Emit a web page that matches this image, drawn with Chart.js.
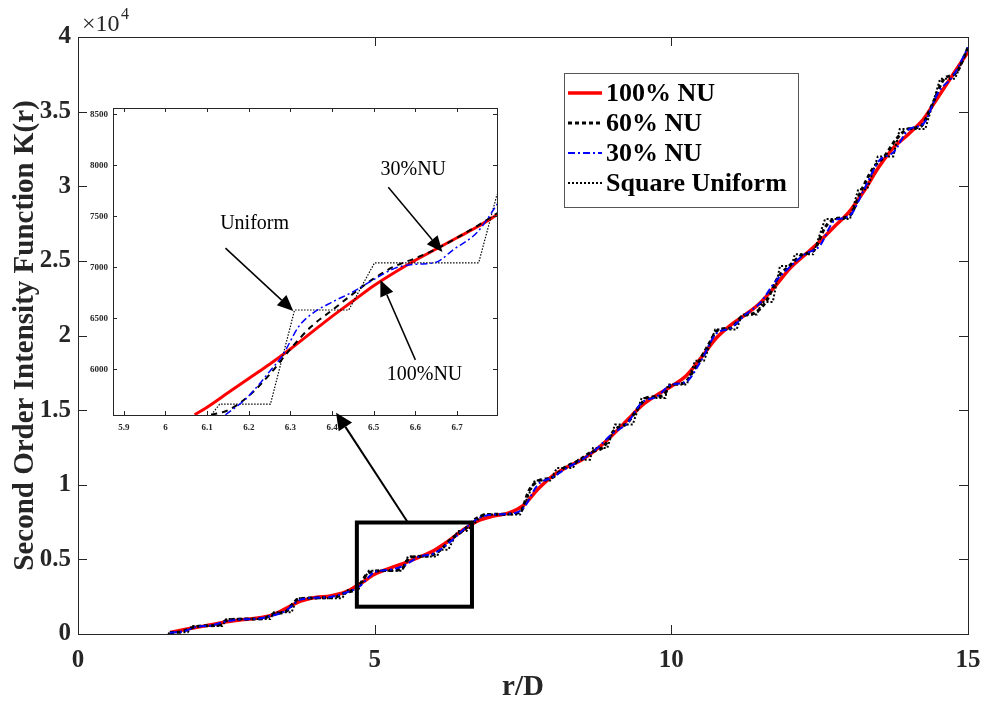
<!DOCTYPE html>
<html>
<head>
<meta charset="utf-8">
<script src="https://cdn.jsdelivr.net/npm/chart.js@4.4.1/dist/chart.umd.min.js"></script>
<style>
  html, body { margin: 0; padding: 0; background: #fff; }
  #wrap { position: relative; width: 987px; height: 702px; }
  #main-chart { position: absolute; left: 0; top: 0; z-index: 2; }
  #inset-chart { position: absolute; left: 70px; top: 97px; z-index: 1; }
</style>
</head>
<body>
<div id="wrap">
  <canvas id="inset-chart" width="440" height="340"></canvas>
  <canvas id="main-chart" width="987" height="702"></canvas>
</div>
<script>
// ---- main plot data (r/D, K(r)) ----
const nu100R = [1.55, 1.8, 2.0, 2.25, 2.5, 2.75, 3.0, 3.25, 3.5, 3.75, 4.0, 4.25, 4.5, 4.75, 5.0, 5.25, 5.5, 5.75, 6.0, 6.25,
  6.5, 6.75, 7.0, 7.25, 7.5, 7.75, 8.0, 8.25, 8.5, 8.75, 9.0, 9.25, 9.5, 9.75, 10.0, 10.25, 10.5, 10.75, 11.0, 11.25,
  11.5, 11.75, 12.0, 12.25, 12.5, 12.75, 13.0, 13.25, 13.5, 13.75, 14.0, 14.25, 14.5, 14.75, 15.0];
const nu100K = [100, 300, 450, 620, 820, 950, 1050, 1250, 1700, 2200, 2450, 2550, 2800, 3350, 4000, 4400, 4750, 5150, 5600, 6250,
  7000, 7600, 7900, 8100, 8600, 9700, 10600, 11200, 11700, 12400, 13300, 14300, 15300, 16000, 16600, 17300, 18500, 19800, 20700, 21400,
  22200, 23300, 24500, 25400, 26300, 27300, 28300, 29700, 31300, 32600, 33500, 34500, 36000, 37500, 39000];

const nu60R = [1.55, 1.75, 1.9, 2.1, 2.35, 2.5, 2.8, 3.1, 3.3, 3.5, 3.7, 4.0, 4.3, 4.5, 4.7, 4.9, 5.2, 5.45, 5.6, 5.9,
  6.1, 6.3, 6.5, 6.7, 6.9, 7.2, 7.45, 7.6, 7.75, 8.0, 8.2, 8.45, 8.65, 8.85, 9.05, 9.25, 9.45, 9.6, 9.85, 10.0,
  10.2, 10.4, 10.6, 10.8, 11.0, 11.2, 11.4, 11.6, 11.8, 12.0, 12.2, 12.4, 12.6, 12.8, 13.0, 13.2, 13.4, 13.6, 13.8, 14.0,
  14.2, 14.4, 14.6, 14.8, 15.0];
const nu60K = [100, 150, 400, 550, 570, 900, 1000, 1020, 1350, 1500, 2300, 2420, 2440, 2750, 3050, 4100, 4250, 4350, 5150, 5220,
  5600, 6400, 6950, 7700, 8000, 8030, 8150, 9600, 10250, 10500, 11150, 11650, 12200, 12500, 13700, 14100, 15200, 15850, 15950, 16700,
  16800, 17800, 19200, 20400, 20500, 21300, 21500, 22300, 23900, 24700, 25400, 25700, 27300, 27850, 28000, 29700, 31200, 32050, 33200, 33850,
  34000, 35500, 37200, 37600, 39300];

const nu30R = nu100R;
const nu30K = [80, 200, 480, 580, 850, 980, 1020, 1200, 1550, 2300, 2430, 2480, 2750, 3200, 4150, 4300, 4600, 5180, 5400, 6100,
  7000, 7750, 8000, 8050, 8400, 10000, 10500, 11150, 11700, 12450, 13400, 14100, 15500, 15900, 16700, 16900, 18300, 20100, 20500, 21400,
  22200, 23600, 24600, 25450, 26000, 27700, 28000, 29800, 31700, 32300, 33800, 34200, 36300, 37400, 39300];

const sqR = [1.52, 1.55, 1.85, 1.94, 2.43, 2.50, 3.24, 3.30, 3.60, 3.69, 4.45, 4.55, 4.72, 4.90, 5.46, 5.56, 6.05, 6.10, 6.24, 6.40,
  6.55, 6.83, 7.45, 7.70, 7.96, 8.07, 8.34, 8.43, 8.63, 8.68, 8.92, 9.05, 9.35, 9.50, 9.90, 9.94, 10.26, 10.40, 10.55, 10.74,
  11.10, 11.19, 11.44, 11.53, 11.71, 11.83, 12.03, 12.08, 12.39, 12.59, 13.01, 13.15, 13.30, 13.48, 13.74, 13.85, 14.28, 14.53, 14.78, 15.00];
const sqK = [0, 120, 120, 540, 540, 1000, 1000, 1450, 1450, 2400, 2400, 2950, 2950, 4230, 4230, 5190, 5190, 5640, 5640, 6900,
  6900, 8000, 8000, 10290, 10290, 11120, 11120, 11680, 11680, 12460, 12460, 14030, 14030, 15820, 15820, 16710, 16710, 18300, 18300, 20400,
  20400, 21400, 21400, 22250, 22250, 24650, 24650, 25440, 25440, 27800, 27800, 29800, 29800, 32000, 32000, 33830, 33830, 37200, 37200, 39300];

const mainXTicks = [0, 5, 10, 15];
const mainYTicks = [0, 5000, 10000, 15000, 20000, 25000, 30000, 35000, 40000];
const mainYLabels = ['0', '0.5', '1', '1.5', '2', '2.5', '3', '3.5', '4'];
const seriesLabels = ['100% NU', '60% NU', '30% NU', 'Square Uniform'];

// ---- inset data (zoomed view) ----
const in100X = [6.07, 6.10, 6.15, 6.20, 6.25, 6.30, 6.35, 6.40, 6.45, 6.50, 6.55, 6.60, 6.65, 6.70, 6.75, 6.80];
const in100Y = [5555, 5630, 5770, 5910, 6050, 6200, 6360, 6520, 6670, 6820, 6950, 7070, 7180, 7290, 7400, 7525];
const in60X = [6.11, 6.15, 6.20, 6.25, 6.30, 6.35, 6.40, 6.45, 6.50, 6.55, 6.60, 6.65, 6.70, 6.75, 6.80];
const in60Y = [5555, 5600, 5740, 5950, 6200, 6420, 6580, 6740, 6890, 7010, 7090, 7180, 7290, 7410, 7540];
const in30X = [6.144, 6.19, 6.22, 6.25, 6.28, 6.32, 6.35, 6.40, 6.45, 6.50, 6.55, 6.60, 6.65, 6.69, 6.75, 6.80];
const in30Y = [5555, 5700, 5830, 5980, 6130, 6420, 6540, 6660, 6760, 6880, 6990, 7030, 7050, 7170, 7350, 7640];
const inSqX = [6.11, 6.13, 6.252, 6.31, 6.44, 6.502, 6.752, 6.796];
const inSqY = [5555, 5659, 5659, 6582, 6582, 7045, 7045, 7714];

const inXTicks = [5.9, 6, 6.1, 6.2, 6.3, 6.4, 6.5, 6.6, 6.7];
const inYTicks = [6000, 6500, 7000, 7500, 8000, 8500];

const ink = '#262626';
const serif = '"Liberation Serif", "Times New Roman", serif';
const pts = (xs, ys) => xs.map((x, i) => ({ x: x, y: ys[i] }));

function arrow(ctx, x0, y0, x1, y1, head, half, lw) {
  const a = Math.atan2(y1 - y0, x1 - x0);
  const bx = x1 - head * Math.cos(a), by = y1 - head * Math.sin(a);
  ctx.lineWidth = lw;
  ctx.beginPath(); ctx.moveTo(x0, y0); ctx.lineTo(bx, by); ctx.stroke();
  ctx.beginPath();
  ctx.moveTo(x1, y1);
  ctx.lineTo(bx - half * Math.sin(a), by + half * Math.cos(a));
  ctx.lineTo(bx + half * Math.sin(a), by - half * Math.cos(a));
  ctx.closePath(); ctx.fill();
}

// matlab-like box with inward ticks on all four sides
const boxTicks = {
  id: 'boxTicks',
  afterDatasetsDraw(chart, args, opts) {
    const { ctx, chartArea: a, scales: { x, y } } = chart;
    ctx.save();
    ctx.strokeStyle = ink;
    ctx.lineWidth = 1;
    ctx.beginPath();
    x.ticks.forEach(t => {
      const p = Math.round(x.getPixelForValue(t.value)) + 0.5;
      ctx.moveTo(p, a.bottom); ctx.lineTo(p, a.bottom - opts.len);
      ctx.moveTo(p, a.top); ctx.lineTo(p, a.top + opts.len);
    });
    y.ticks.forEach(t => {
      const p = Math.round(y.getPixelForValue(t.value)) + 0.5;
      ctx.moveTo(a.left, p); ctx.lineTo(a.left + opts.len, p);
      ctx.moveTo(a.right, p); ctx.lineTo(a.right - opts.len, p);
    });
    ctx.stroke();
    ctx.strokeRect(Math.round(a.left) + 0.5, Math.round(a.top) + 0.5, Math.round(a.width), Math.round(a.height));
    ctx.restore();
  }
};

// zoom box, arrow to inset, exponent and legend on the main axes
const mainOverlay = {
  id: 'mainOverlay',
  afterDraw(chart) {
    const { ctx, scales: { x, y } } = chart;
    ctx.save();
    ctx.strokeStyle = '#000';
    ctx.fillStyle = '#000';
    // zoom rectangle
    const rx0 = x.getPixelForValue(4.70), rx1 = x.getPixelForValue(6.64);
    const ry0 = y.getPixelForValue(7470), ry1 = y.getPixelForValue(1830);
    ctx.lineWidth = 4;
    ctx.strokeRect(rx0, ry0, rx1 - rx0, ry1 - ry0);
    arrow(ctx, x.getPixelForValue(5.56), ry0, x.getPixelForValue(4.35), y.getPixelForValue(14830), 17, 8, 2);

    // x10^4
    ctx.fillStyle = ink;
    ctx.textBaseline = 'alphabetic';
    ctx.textAlign = 'left';
    ctx.font = '24px ' + serif;
    ctx.fillText('\u00d710', 82, 31);
    ctx.font = '16px ' + serif;
    ctx.fillText('4', 121, 19);

    // legend
    const lx = 564, ly = 73, lw = 234, lh = 134;
    ctx.fillStyle = '#fff';
    ctx.fillRect(lx, ly, lw, lh);
    ctx.strokeStyle = '#555';
    ctx.lineWidth = 1;
    ctx.strokeRect(lx + 0.5, ly + 0.5, lw, lh);
    ctx.font = 'bold 26px ' + serif;
    ctx.textBaseline = 'middle';
    chart.data.datasets.forEach((ds, i) => {
      const cy = ly + 20 + i * 30;
      ctx.save();
      ctx.strokeStyle = ds.borderColor;
      ctx.lineWidth = ds.borderWidth;
      ctx.setLineDash(ds.borderDash || []);
      ctx.beginPath(); ctx.moveTo(lx + 4, cy); ctx.lineTo(lx + 38, cy); ctx.stroke();
      ctx.restore();
      ctx.fillStyle = '#000';
      ctx.fillText(ds.label, lx + 42, cy + 1);
    });
    ctx.restore();
  }
};

// text arrows inside the inset
const insetNotes = {
  id: 'insetNotes',
  afterDraw(chart) {
    const { ctx, scales: { x, y } } = chart;
    ctx.save();
    ctx.fillStyle = '#000';
    ctx.strokeStyle = '#000';
    ctx.font = '20px ' + serif;
    ctx.textAlign = 'center';
    ctx.textBaseline = 'middle';
    const notes = [
      { t: 'Uniform', tx: 6.214, ty: 7430, x0: 6.144, y0: 7189, x1: 6.307, y1: 6572 },
      { t: '30%NU', tx: 6.595, ty: 7960, x0: 6.535, y0: 7786, x1: 6.665, y1: 7150 },
      { t: '100%NU', tx: 6.622, ty: 5950, x0: 6.600, y0: 6093, x1: 6.516, y1: 6876 }
    ];
    notes.forEach(n => {
      ctx.fillText(n.t, x.getPixelForValue(n.tx), y.getPixelForValue(n.ty));
      arrow(ctx, x.getPixelForValue(n.x0), y.getPixelForValue(n.y0),
        x.getPixelForValue(n.x1), y.getPixelForValue(n.y1), 16, 7, 1.5);
    });
    ctx.restore();
  }
};

const mainDatasets = [
  { data: pts(nu100R, nu100K), borderColor: '#ff0000', borderWidth: 3.5, cubicInterpolationMode: 'monotone', order: 4 },
  { data: pts(nu60R, nu60K), borderColor: '#000000', borderWidth: 3, borderDash: [4, 3], cubicInterpolationMode: 'monotone', order: 2 },
  { data: pts(nu30R, nu30K), borderColor: '#0000ff', borderWidth: 2, borderDash: [7, 3, 2, 3], cubicInterpolationMode: 'monotone', order: 1 },
  { data: pts(sqR, sqK), borderColor: '#000000', borderWidth: 2, borderDash: [2, 2], order: 3 }
].map((d, i) => Object.assign({ label: seriesLabels[i], pointRadius: 0, fill: false }, d));

new Chart(document.querySelector('#main-chart').getContext('2d'), {
  type: 'line',
  data: { datasets: mainDatasets },
  options: {
    responsive: false,
    animation: false,
    devicePixelRatio: 1,
    layout: { padding: { top: 37, right: 19, left: 0, bottom: 0 } },
    plugins: { legend: { display: false }, tooltip: { enabled: false }, boxTicks: { len: 9 } },
    scales: {
      x: {
        type: 'linear', min: 0, max: 15,
        afterFit: s => { s.height = 68; s.paddingLeft = 0; s.paddingRight = 0; },
        afterBuildTicks: s => { s.ticks = mainXTicks.map(v => ({ value: v })); },
        grid: { display: false, drawTicks: false },
        border: { display: false },
        ticks: { font: { family: serif, size: 25, weight: 'bold' }, color: ink, padding: 12, maxRotation: 0, autoSkip: false },
        title: { display: true, text: 'r/D', color: ink, font: { family: serif, size: 29, weight: 'bold', lineHeight: 1 }, padding: { top: 0, bottom: 0 } }
      },
      y: {
        type: 'linear', min: 0, max: 40000,
        afterFit: s => { s.width = 78; },
        afterBuildTicks: s => { s.ticks = mainYTicks.map(v => ({ value: v })); },
        grid: { display: false, drawTicks: false },
        border: { display: false },
        ticks: { font: { family: serif, size: 25, weight: 'bold' }, color: ink, padding: 7, autoSkip: false,
          callback: (v, i) => mainYLabels[i] },
        title: { display: true, text: 'Second Order Intensity Function K(r)', color: ink,
          font: { family: serif, size: 29, weight: 'bold' }, padding: { top: 8, bottom: 0 } }
      }
    }
  },
  plugins: [boxTicks, mainOverlay]
});

const insetDatasets = [
  { data: pts(in100X, in100Y), borderColor: '#ff0000', borderWidth: 3, cubicInterpolationMode: 'monotone', order: 4 },
  { data: pts(in60X, in60Y), borderColor: '#000000', borderWidth: 2, borderDash: [6, 5], cubicInterpolationMode: 'monotone', order: 2 },
  { data: pts(in30X, in30Y), borderColor: '#0000ff', borderWidth: 1.5, borderDash: [7, 3, 2, 3], cubicInterpolationMode: 'monotone', order: 1 },
  { data: pts(inSqX, inSqY), borderColor: '#000000', borderWidth: 1.2, borderDash: [1.5, 1.5], order: 3 }
].map((d, i) => Object.assign({ label: seriesLabels[i], pointRadius: 0, fill: false, clip: 0 }, d));

new Chart(document.querySelector('#inset-chart').getContext('2d'), {
  type: 'line',
  data: { datasets: insetDatasets },
  options: {
    responsive: false,
    animation: false,
    devicePixelRatio: 1,
    layout: { padding: { top: 11, right: 13, left: 0, bottom: 0 } },
    plugins: { legend: { display: false }, tooltip: { enabled: false }, boxTicks: { len: 4 } },
    scales: {
      x: {
        type: 'linear', min: 5.874, max: 6.796,
        afterFit: s => { s.height = 22; s.paddingLeft = 0; s.paddingRight = 0; },
        afterBuildTicks: s => { s.ticks = inXTicks.map(v => ({ value: v })); },
        grid: { display: false, drawTicks: false },
        border: { display: false },
        ticks: { font: { family: serif, size: 9, weight: 'bold' }, color: ink, padding: 7, maxRotation: 0, autoSkip: false,
          callback: (v, i) => String(inXTicks[i]) }
      },
      y: {
        type: 'linear', min: 5553, max: 8562,
        afterFit: s => { s.width = 43; },
        afterBuildTicks: s => { s.ticks = inYTicks.map(v => ({ value: v })); },
        grid: { display: false, drawTicks: false },
        border: { display: false },
        ticks: { font: { family: serif, size: 9, weight: 'bold' }, color: ink, padding: 5, autoSkip: false,
          callback: (v, i) => String(inYTicks[i]) }
      }
    }
  },
  plugins: [boxTicks, insetNotes]
});
</script>
</body>
</html>
